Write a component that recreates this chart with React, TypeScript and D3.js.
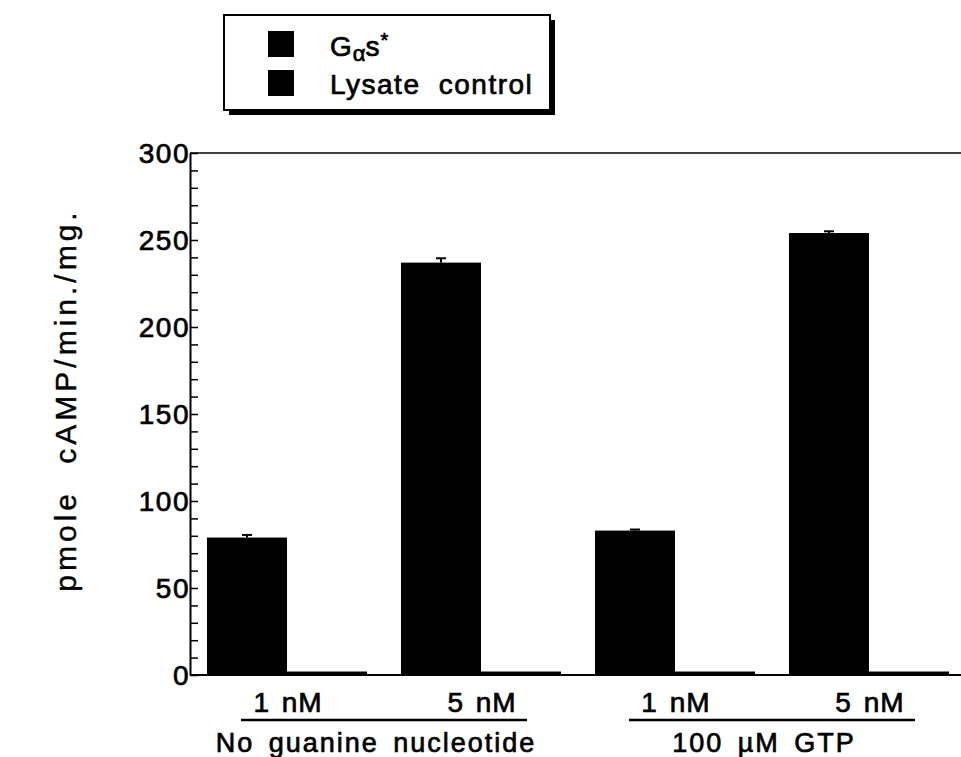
import React, { useEffect, useRef } from 'react';
import * as d3 from 'd3';

// values
const conditions = ['1 nM', '5 nM', '1 nM', '5 nM'];
const groupLabels = ['No guanine nucleotide', '100 \u00b5M GTP'];
const gasValues = [79, 237, 83, 254];
const gasErrors = [1.5, 2.5, 0.6, 1];
const lysateValues = [2, 2, 2, 2];
const yTicks = [0, 50, 100, 150, 200, 250, 300];
const yMinorTicks = d3.range(0, 301, 10);

const FONT = '"Liberation Sans", Arial, Helvetica, sans-serif';

function App() {
  const svgRef = useRef<SVGSVGElement>(null);

  useEffect(() => {
    const width = 961;
    const left = 190;
    const top = 153;
    const bottom = 675;

    const svg = d3.select(svgRef.current);
    svg.selectAll('*').remove();

    const x = d3.scaleBand<number>()
      .domain(d3.range(conditions.length))
      .range([left, left + 776])
      .paddingInner(0.175)
      .paddingOuter(0.0876);
    const barW = x.bandwidth() / 2;

    const y = d3.scaleLinear().domain([0, 300]).range([bottom, top]);

    // scanned type is heavy, so regular weight plus a thin outline
    const txt = (sel: any, size = 28, spacing = 1.5) =>
      sel.style('font-family', FONT)
        .style('font-size', `${size}px`)
        .style('letter-spacing', `${spacing}px`)
        .attr('fill', '#000')
        .attr('stroke', '#000')
        .attr('stroke-width', 0.7);

    // bars
    const g = svg.append('g');
    conditions.forEach((_, i) => {
      const x0 = x(i)!;
      g.append('rect')
        .attr('x', x0)
        .attr('y', y(gasValues[i]))
        .attr('width', barW)
        .attr('height', y(0) - y(gasValues[i]))
        .attr('fill', '#000');
      g.append('rect')
        .attr('x', x0 + barW)
        .attr('y', y(lysateValues[i]))
        .attr('width', barW)
        .attr('height', y(0) - y(lysateValues[i]))
        .attr('fill', '#000');
      // error bar (upper only)
      const cx = x0 + barW / 2;
      g.append('line')
        .attr('x1', cx).attr('x2', cx)
        .attr('y1', y(gasValues[i])).attr('y2', y(gasValues[i] + gasErrors[i]))
        .attr('stroke', '#000').attr('stroke-width', 2);
      g.append('line')
        .attr('x1', cx - 5).attr('x2', cx + 5)
        .attr('y1', y(gasValues[i] + gasErrors[i])).attr('y2', y(gasValues[i] + gasErrors[i]))
        .attr('stroke', '#000').attr('stroke-width', 2);
    });

    // frame lines
    svg.append('line')
      .attr('x1', left).attr('x2', width + 10)
      .attr('y1', top).attr('y2', top)
      .attr('stroke', '#000').attr('stroke-width', 1.5);
    svg.append('line')
      .attr('x1', left).attr('x2', width + 10)
      .attr('y1', bottom).attr('y2', bottom)
      .attr('stroke', '#000').attr('stroke-width', 2);

    // y axis with inner ticks
    const yAxis = svg.append('g')
      .attr('transform', `translate(${left},0)`)
      .call(d3.axisRight(y).tickValues(yMinorTicks).tickSize(8).tickFormat(() => '').tickSizeOuter(0));
    yAxis.select('.domain').attr('stroke-width', 2);
    yAxis.selectAll('.tick line').attr('stroke-width', 1.5);

    yTicks.forEach(t => {
      txt(svg.append('text'))
        .attr('x', left)
        .attr('y', y(t) + 10)
        .attr('text-anchor', 'end')
        .text(t);
    });

    // y label
    txt(svg.append('text'), 30, 4)
      .attr('stroke-width', 0.4)
      .attr('transform', `translate(76,400) rotate(-90)`)
      .attr('text-anchor', 'middle')
      .style('word-spacing', '14px')
      .text('pmole cAMP/min./mg.');

    // condition labels
    conditions.forEach((c, i) => {
      txt(svg.append('text'), 28, 1)
        .attr('x', x(i)! + barW + 1)
        .attr('y', 712)
        .attr('text-anchor', 'middle')
        .style('word-spacing', '3px')
        .text(c);
    });

    // group underline + labels
    groupLabels.forEach((lab, gi) => {
      const a = x(gi * 2)! + barW;
      const b = x(gi * 2 + 1)! + barW;
      const mid = (a + b) / 2;
      svg.append('line')
        .attr('x1', mid - 143).attr('x2', mid + 143)
        .attr('y1', 720).attr('y2', 720)
        .attr('stroke', '#000').attr('stroke-width', 2.5);
      txt(svg.append('text'), 27, 2)
        .attr('x', mid - 8)
        .attr('y', 752)
        .attr('text-anchor', 'middle')
        .style('word-spacing', '5px')
        .text(lab);
    });

    // legend
    const lg = svg.append('g');
    lg.append('rect').attr('x', 229).attr('y', 20).attr('width', 326).attr('height', 95).attr('fill', '#000');
    lg.append('rect').attr('x', 224).attr('y', 15).attr('width', 326).attr('height', 95)
      .attr('fill', '#fff').attr('stroke', '#000').attr('stroke-width', 2);
    const legendItems = ['gas', 'lysate'];
    legendItems.forEach((k, i) => {
      lg.append('rect')
        .attr('x', 268).attr('y', 31 + i * 39)
        .attr('width', 26).attr('height', 26)
        .attr('fill', '#000');
    });
    const t1 = txt(lg.append('text'), 28, 1).attr('x', 330).attr('y', 56);
    t1.append('tspan').text('G');
    t1.append('tspan').attr('dy', 5).style('font-size', '22px').style('letter-spacing', '0px').text('\u03b1');
    t1.append('tspan').attr('dy', -5).text('s');
    t1.append('tspan').attr('dy', -9).style('font-size', '20px').text('*');
    txt(lg.append('text'), 28, 1.5)
      .attr('x', 330).attr('y', 94)
      .style('word-spacing', '9px')
      .text('Lysate control');
  }, []);

  return (
    <svg
      ref={svgRef}
      width={961}
      height={757}
      style={{ position: 'absolute', left: 0, top: 0, background: '#fff' }}
    />
  );
}

export default App;
